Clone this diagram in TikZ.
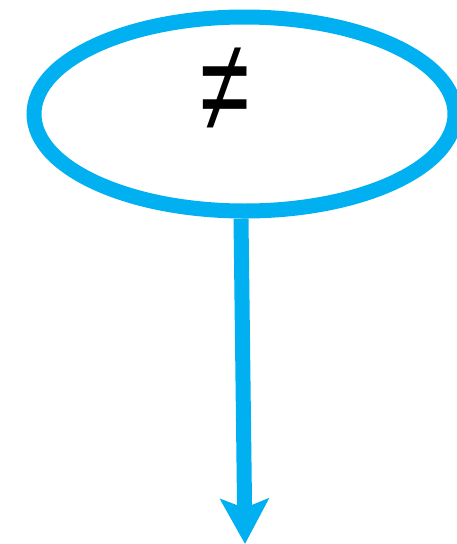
\documentclass[tikz,border=0pt]{standalone}
\usepackage{fontspec}
\setmainfont{Liberation Sans}
\usetikzlibrary{shapes.geometric,arrows.meta}
\definecolor{cyanline}{HTML}{00B0F0}
\tikzset{
  bubble/.style={ellipse, draw=cyanline, line width=15pt, minimum width=421pt, minimum height=194pt, inner sep=0pt},
  flow/.style={draw=cyanline, line width=15pt, -{Stealth[length=45pt,width=48pt,inset=9pt]}},
  sym/.style={font=\fontsize{132pt}{132pt}\selectfont, inner sep=0pt}
}
\begin{document}
\begin{tikzpicture}[x=1pt,y=1pt]
\useasboundingbox (0,0) rectangle (457,-544);
\node[bubble] (e) at (244.5,-114) {};
\node[sym] (t) at (225,-90) {\scalebox{0.68}[1]{≠}};
\coordinate (end) at (245,-544);
\draw[flow] ([xshift=-3.5pt]e.south) -- (end);
\end{tikzpicture}
\end{document}
